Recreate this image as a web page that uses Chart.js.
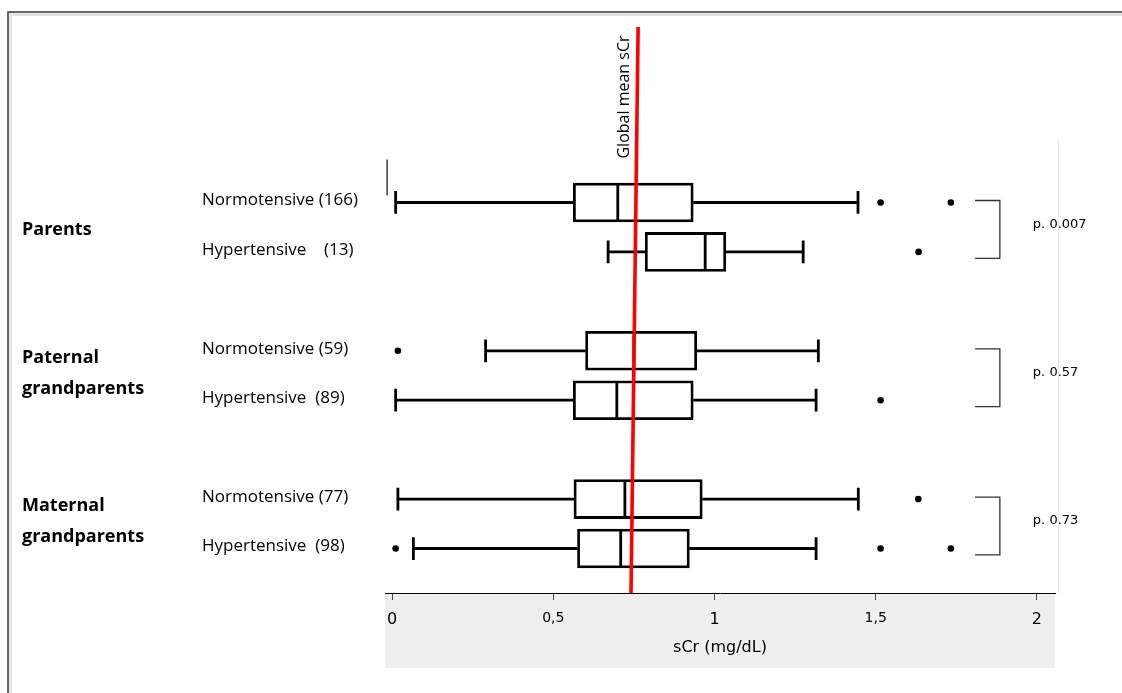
<!DOCTYPE html>
<html lang="en">
<head>
    <meta charset="UTF-8">
    <title>sCr by family blood pressure status</title>
    <script src="https://cdn.jsdelivr.net/npm/chart.js"></script>
    <style>
        body { margin: 0; background: #fff; }
        .wrap { width: 1122px; height: 693px; position: relative; }
    </style>
</head>
<body>
    <div class="wrap">
        <canvas id="boxChart"></canvas>
    </div>

    <script>
        // ---- data (sCr, mg/dL) ----
        const groupLabels = ['Parents', 'Paternal\ngrandparents', 'Maternal\ngrandparents'];
        const rowLabels = [
            'Normotensive (166)', 'Hypertensive    (13)',
            'Normotensive (59)', 'Hypertensive  (89)',
            'Normotensive (77)', 'Hypertensive  (98)'
        ];
        const whiskerLow  = [0.011, 0.670, 0.290, 0.011, 0.018, 0.066];
        const q1          = [0.562, 0.785, 0.600, 0.562, 0.564, 0.575];
        const median      = [0.700, 0.971, 0.750, 0.697, 0.722, 0.709];
        const q3          = [0.934, 1.035, 0.945, 0.934, 0.962, 0.922];
        const whiskerHigh = [1.445, 1.275, 1.322, 1.315, 1.446, 1.315];
        const outliers = [
            [1.515, 1.733],
            [1.633],
            [0.018],
            [1.515],
            [1.632],
            [0.011, 1.515, 1.733]
        ];
        const pValues = ['p. 0.007', 'p. 0.57', 'p. 0.73'];
        // global mean line (slightly slanted in the original scan): top / bottom
        const meanTop = 0.763;
        const meanBottom = 0.741;
        const xTicks = [0, 0.5, 1, 1.5, 2];
        const xTickLabels = ['0', '0,5', '1', '1,5', '2'];

        // ---- layout helpers ----
        const X_MIN = -0.022, X_MAX = 2.056;
        const Y_MIN = -2.55, Y_MAX = 8.9;
        const BOX_HALF = 0.37;
        const CAP_HALF = 0.23;
        const BRACKET_X0 = 1.808, BRACKET_X1 = 1.885;

        // two rows per group, one empty slot between groups
        function rowPos(i) {
            return Math.floor(i / 2) * 3 + (i % 2) + 1;
        }

        const boxes = q1.map((v, i) => ({ x: [v, q3[i]], y: rowPos(i) }));

        const whiskers = [];
        whiskerLow.forEach((lo, i) => {
            const y = rowPos(i);
            const hi = whiskerHigh[i];
            whiskers.push({ x: lo, y: y }, { x: q1[i], y: y }, { x: lo, y: null });
            whiskers.push({ x: q3[i], y: y }, { x: hi, y: y }, { x: hi, y: null });
            whiskers.push({ x: lo, y: y - CAP_HALF }, { x: lo, y: y + CAP_HALF }, { x: lo, y: null });
            whiskers.push({ x: hi, y: y - CAP_HALF }, { x: hi, y: y + CAP_HALF }, { x: hi, y: null });
        });

        const medians = [];
        median.forEach((m, i) => {
            const y = rowPos(i);
            medians.push({ x: m, y: y - BOX_HALF }, { x: m, y: y + BOX_HALF }, { x: m, y: null });
        });

        const outlierPts = [];
        outliers.forEach((list, i) => {
            list.forEach(v => outlierPts.push({ x: v, y: rowPos(i) }));
        });

        const brackets = [];
        groupLabels.forEach((g, gi) => {
            const yTop = rowPos(gi * 2) - 0.04;
            const yBot = rowPos(gi * 2 + 1) + 0.13;
            brackets.push(
                { x: BRACKET_X0, y: yTop }, { x: BRACKET_X1, y: yTop },
                { x: BRACKET_X1, y: yBot }, { x: BRACKET_X0, y: yBot },
                { x: BRACKET_X0, y: null }
            );
        });

        // frame, grey axis band and the text around the plot
        const decorations = {
            id: 'decorations',
            beforeDraw(chart) {
                const { ctx, chartArea } = chart;
                const xs = chart.scales.x;
                ctx.save();
                ctx.fillStyle = '#fff';
                ctx.fillRect(0, 0, chart.width, chart.height);
                // frame shadow + frame
                ctx.strokeStyle = '#e4e4e4';
                ctx.lineWidth = 3;
                ctx.beginPath();
                ctx.moveTo(10.5, chart.height);
                ctx.lineTo(10.5, 14.5);
                ctx.lineTo(chart.width, 14.5);
                ctx.stroke();
                ctx.strokeStyle = '#3a3a3a';
                ctx.lineWidth = 1.5;
                ctx.beginPath();
                ctx.moveTo(8, chart.height);
                ctx.lineTo(8, 12);
                ctx.lineTo(chart.width, 12);
                ctx.stroke();
                // grey band under the x axis
                ctx.fillStyle = '#efefef';
                ctx.fillRect(chartArea.left, xs.top, chartArea.right - chartArea.left, xs.bottom - xs.top);
                // faint right edge line
                ctx.strokeStyle = '#e6e6e6';
                ctx.lineWidth = 1;
                ctx.beginPath();
                ctx.moveTo(chartArea.right + 3.5, 140);
                ctx.lineTo(chartArea.right + 3.5, xs.top);
                ctx.stroke();
                ctx.restore();
            },
            afterDraw(chart) {
                const { ctx } = chart;
                const xs = chart.scales.x, ys = chart.scales.y;
                ctx.save();
                ctx.fillStyle = '#000';
                ctx.textBaseline = 'middle';

                // row labels
                ctx.font = '17px "Open Sans"';
                ctx.textAlign = 'left';
                rowLabels.forEach((t, i) => {
                    ctx.fillText(t, 202, ys.getPixelForValue(rowPos(i)) - 2);
                });

                // group labels
                ctx.font = 'bold 18px "Open Sans"';
                groupLabels.forEach((t, gi) => {
                    const mid = (ys.getPixelForValue(rowPos(gi * 2)) + ys.getPixelForValue(rowPos(gi * 2 + 1))) / 2;
                    const lines = t.split('\n');
                    lines.forEach((line, li) => {
                        const off = (li - (lines.length - 1) / 2) * 31;
                        ctx.fillText(line, 22, mid + off + (lines.length === 1 ? 3 : -2));
                    });
                });

                // p values
                ctx.font = '13px "DejaVu Sans"';
                pValues.forEach((t, gi) => {
                    const mid = (ys.getPixelForValue(rowPos(gi * 2)) + ys.getPixelForValue(rowPos(gi * 2 + 1))) / 2;
                    ctx.fillText(t, xs.getPixelForValue(BRACKET_X1) + 33, mid - 3);
                });

                // label of the global mean line
                const lx = xs.getPixelForValue(meanTop) - 9;
                ctx.translate(lx, chart.chartArea.top + 70);
                ctx.rotate(-Math.PI / 2);
                ctx.font = '16px "Open Sans"';
                ctx.textAlign = 'center';
                ctx.textBaseline = 'alphabetic';
                ctx.fillText('Global mean sCr', 0, 0);
                ctx.restore();
            }
        };

        const ctx = document.getElementById('boxChart').getContext('2d');
        const chart = new Chart(ctx, {
            type: 'scatter',
            data: {
                datasets: [
                    {
                        type: 'bar',
                        label: 'IQR',
                        indexAxis: 'y',
                        data: boxes,
                        backgroundColor: '#fff',
                        borderColor: '#000',
                        borderWidth: 2.8,
                        borderSkipped: false,
                        barThickness: 39,
                        order: 4
                    },
                    {
                        type: 'line',
                        label: 'whiskers',
                        data: whiskers,
                        borderColor: '#000',
                        borderWidth: 2.8,
                        pointRadius: 0,
                        spanGaps: false,
                        order: 3
                    },
                    {
                        type: 'line',
                        label: 'median',
                        data: medians,
                        borderColor: '#000',
                        borderWidth: 2.8,
                        pointRadius: 0,
                        spanGaps: false,
                        order: 2
                    },
                    {
                        type: 'scatter',
                        label: 'outliers',
                        data: outlierPts,
                        backgroundColor: '#000',
                        borderWidth: 0,
                        pointRadius: 3.3,
                        order: 2
                    },
                    {
                        type: 'line',
                        label: 'brackets',
                        data: brackets,
                        borderColor: '#333',
                        borderWidth: 1.3,
                        pointRadius: 0,
                        spanGaps: false,
                        order: 2
                    },
                    {
                        type: 'line',
                        label: 'axis stub',
                        data: [{ x: -0.0155, y: 0.13 }, { x: -0.0155, y: 0.86 }],
                        borderColor: '#333',
                        borderWidth: 1.4,
                        pointRadius: 0,
                        order: 2
                    },
                    {
                        type: 'line',
                        label: 'Global mean sCr',
                        data: [{ x: meanTop, y: Y_MIN }, { x: meanBottom, y: Y_MAX }],
                        borderColor: '#ff0000',
                        borderWidth: 3.6,
                        pointRadius: 0,
                        order: 0
                    }
                ]
            },
            options: {
                responsive: true,
                maintainAspectRatio: false,
                animation: false,
                layout: { padding: { left: 385, right: 67, top: 27, bottom: 25 } },
                plugins: {
                    legend: { display: false },
                    tooltip: { enabled: false }
                },
                scales: {
                    x: {
                        type: 'linear',
                        min: X_MIN,
                        max: X_MAX,
                        offset: false,
                        afterBuildTicks: s => { s.ticks = xTicks.map(v => ({ value: v })); },
                        afterFit: s => { s.height = 75; },
                        border: { display: true, color: '#000', width: 1 },
                        grid: { drawOnChartArea: false, drawTicks: true, tickLength: 7, color: '#444', offset: false },
                        ticks: {
                            color: '#000',
                            padding: 10,
                            maxRotation: 0,
                            autoSkip: false,
                            font: c => ({
                                family: 'DejaVu Sans',
                                size: (c.tick && !Number.isInteger(c.tick.value)) ? 14 : 16
                            }),
                            callback: (v, i) => xTickLabels[i]
                        },
                        title: {
                            display: true,
                            text: 'sCr (mg/dL)',
                            color: '#000',
                            font: { family: 'DejaVu Sans', size: 16 },
                            padding: { top: 0, bottom: 11 }
                        }
                    },
                    y: {
                        type: 'linear',
                        display: false,
                        reverse: true,
                        offset: false,
                        min: Y_MIN,
                        max: Y_MAX
                    }
                }
            },
            plugins: [decorations]
        });
    </script>
</body>
</html>
